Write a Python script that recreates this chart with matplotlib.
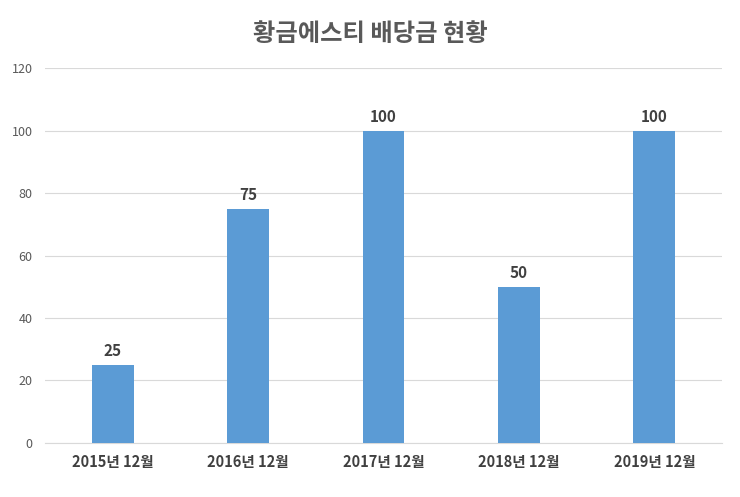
import matplotlib
matplotlib.use("Agg")
import matplotlib.pyplot as plt
import numpy as np

plt.rcParams['font.family'] = ['Noto Sans CJK KR', 'DejaVu Sans']

categories = ["2015년 12월", "2016년 12월", "2017년 12월", "2018년 12월", "2019년 12월"]
dividends = [25, 75, 100, 50, 100]
yticks = [0, 20, 40, 60, 80, 100, 120]

fig = plt.figure(figsize=(7.4, 4.97), dpi=100)
ax = fig.add_axes([0.0608, 0.1087, 0.9149, 0.7543])

x = np.arange(len(categories))
ax.bar(x, dividends, width=0.31, color='#5B9BD5', zorder=3)
for xi, v in zip(x, dividends):
    ax.text(xi, v + 1.8, str(v), ha='center', va='bottom',
            fontsize=11, fontweight='bold', color='#404040')

ax.set_xlim(-0.5, len(categories) - 0.5)
ax.set_ylim(0, 120)
ax.set_yticks(yticks)
ax.set_xticks(x)
ax.set_xticklabels(categories, fontsize=10.5, fontweight='bold', color='#404040')
ax.tick_params(axis='y', labelsize=9, colors='#595959', length=0, pad=9)
ax.tick_params(axis='x', length=0, pad=8)
ax.grid(axis='y', color='#D9D9D9', linewidth=0.8, zorder=0)
for s in ['top', 'right', 'left']:
    ax.spines[s].set_visible(False)
ax.spines['bottom'].set_color('#D9D9D9')

fig.suptitle("황금에스티 배당금 현황", x=0.5, y=0.955, fontsize=17.5,
             fontweight='bold', color='#595959')

fig.savefig("out.png", dpi=100)
